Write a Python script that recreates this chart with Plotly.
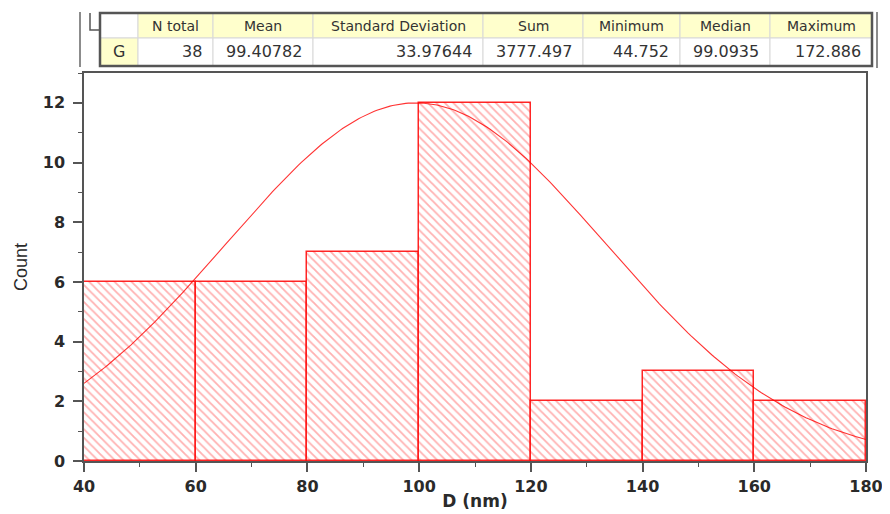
import numpy as np
import plotly.graph_objects as go

# ---- data ----
bin_left = [40, 60, 80, 100, 120, 140, 160]
bin_width = 20
counts = [6, 6, 7, 12, 2, 3, 2]

stat_headers = ["N total", "Mean", "Standard Deviation", "Sum", "Minimum", "Median", "Maximum"]
stat_values = ["38", "99.40782", "33.97644", "3777.497", "44.752", "99.0935", "172.886"]
row_label = "G"

fit_mean = 99.40782
fit_sd = 33.97644
fit_peak = 12.0

x_ticks = [40, 60, 80, 100, 120, 140, 160, 180]
y_ticks = [0, 2, 4, 6, 8, 10, 12]

# ---- layout geometry (screen pixels; page body has an 8px margin) ----
OFF = 8
W, H = 890 - OFF, 514 - OFF
L, R, T, B = 84, 866, 73, 461  # screen coordinates of plot area


def px(x):
    return (x - L) / (R - L)


def py(y):
    return (B - y) / (B - T)


centers = [b + bin_width / 2 for b in bin_left]
fx = np.linspace(40, 180, 300)
fy = fit_peak * np.exp(-(fx - fit_mean) ** 2 / (2 * fit_sd ** 2))

fig = go.Figure()
fig.add_trace(go.Bar(
    x=centers, y=counts, width=[bin_width] * len(counts),
    marker=dict(color="white",
                line=dict(color="rgba(255,0,0,0.85)", width=1.5),
                pattern=dict(shape="\\", fgcolor="rgba(255,30,30,0.7)", bgcolor="white",
                             size=6, solidity=0.3)),
    showlegend=False, hoverinfo="x+y"))
fig.add_trace(go.Scatter(x=fx, y=fy, mode="lines",
                         line=dict(color="rgba(255,0,0,0.8)", width=1.1),
                         showlegend=False))

axfont = dict(family="DejaVu Sans", size=16, color="#2a2a2a", weight="bold")
common = dict(ticks="outside", ticklen=9, tickwidth=1.5, tickcolor="#555",
              showline=True, linecolor="#555", linewidth=1.5, mirror=True,
              showgrid=False, zeroline=False, tickfont=axfont, automargin=False)
fig.update_xaxes(range=[40, 180], tickvals=x_ticks, ticklabelstandoff=1,
                 minor=dict(ticks="outside", ticklen=4, tickcolor="#555", dtick=10, tickwidth=1.2),
                 title=dict(text="D (nm)",
                            font=dict(family="DejaVu Sans", size=17, color="#2a2a2a", weight="bold"),
                            standoff=0),
                 **common)
fig.update_yaxes(range=[0, 13], tickvals=y_ticks, ticklabelstandoff=5,
                 minor=dict(ticks="outside", ticklen=4, tickcolor="#555", dtick=1, tickwidth=1.2),
                 title=dict(text="Count",
                            font=dict(family="Liberation Sans, Arial", size=18, color="#2a2a2a"),
                            standoff=10),
                 **common)

shapes = []
annotations = []

# ---- stats table ----
col_edges = [100, 138, 213, 313, 483, 583, 680, 770, 872]
t_top, t_mid, t_bot = 13, 38, 66
hdr_fill = "#FFFFCC"
grid_col = "#D8D8D8"
hdr_font = dict(family="DejaVu Sans", size=14, color="#333")
val_font = dict(family="DejaVu Sans", size=16, color="#333")

for i in range(len(col_edges) - 1):
    x0, x1 = col_edges[i], col_edges[i + 1]
    top_fill = "white" if i == 0 else hdr_fill
    bot_fill = hdr_fill if i == 0 else "white"
    shapes.append(dict(type="rect", xref="paper", yref="paper", x0=px(x0), x1=px(x1),
                       y0=py(t_mid), y1=py(t_top), fillcolor=top_fill,
                       line=dict(color=grid_col, width=1), layer="above"))
    shapes.append(dict(type="rect", xref="paper", yref="paper", x0=px(x0), x1=px(x1),
                       y0=py(t_bot), y1=py(t_mid), fillcolor=bot_fill,
                       line=dict(color=grid_col, width=1), layer="above"))

for i, h in enumerate(stat_headers):
    x0, x1 = col_edges[i + 1], col_edges[i + 2]
    annotations.append(dict(x=px((x0 + x1) / 2), y=py((t_top + t_mid) / 2 + 1), xref="paper", yref="paper",
                            text=h, showarrow=False, font=hdr_font, xanchor="center", yanchor="middle"))
    annotations.append(dict(x=px(x1 - 9), y=py((t_mid + t_bot) / 2), xref="paper", yref="paper",
                            text=stat_values[i], showarrow=False, font=val_font,
                            xanchor="right", yanchor="middle"))
annotations.append(dict(x=px((col_edges[0] + col_edges[1]) / 2), y=py((t_mid + t_bot) / 2),
                        xref="paper", yref="paper", text=row_label, showarrow=False,
                        font=val_font, xanchor="center", yanchor="middle"))

# outer border
shapes.append(dict(type="rect", xref="paper", yref="paper", x0=px(col_edges[0]), x1=px(col_edges[-1]),
                   y0=py(t_bot), y1=py(t_top), line=dict(color="#555", width=2.5), layer="above"))
# decorative frame lines
shapes.append(dict(type="line", xref="paper", yref="paper", x0=px(80), x1=px(80), y0=py(12), y1=py(67),
                   line=dict(color="#666", width=1.5)))
shapes.append(dict(type="path", xref="paper", yref="paper",
                   path=f"M {px(90)} {py(13)} L {px(90)} {py(30)} L {px(100)} {py(30)}",
                   line=dict(color="#555", width=1.5)))
shapes.append(dict(type="line", xref="paper", yref="paper", x0=px(877), x1=px(877), y0=py(12), y1=py(68),
                   line=dict(color="#666", width=1.5)))

fig.update_layout(width=W, height=H,
                  margin=dict(l=L - OFF, r=W - (R - OFF), t=T - OFF, b=H - (B - OFF)),
                  plot_bgcolor="white", paper_bgcolor="white", bargap=0,
                  shapes=shapes, annotations=annotations)

fig.write_html("out.html")
